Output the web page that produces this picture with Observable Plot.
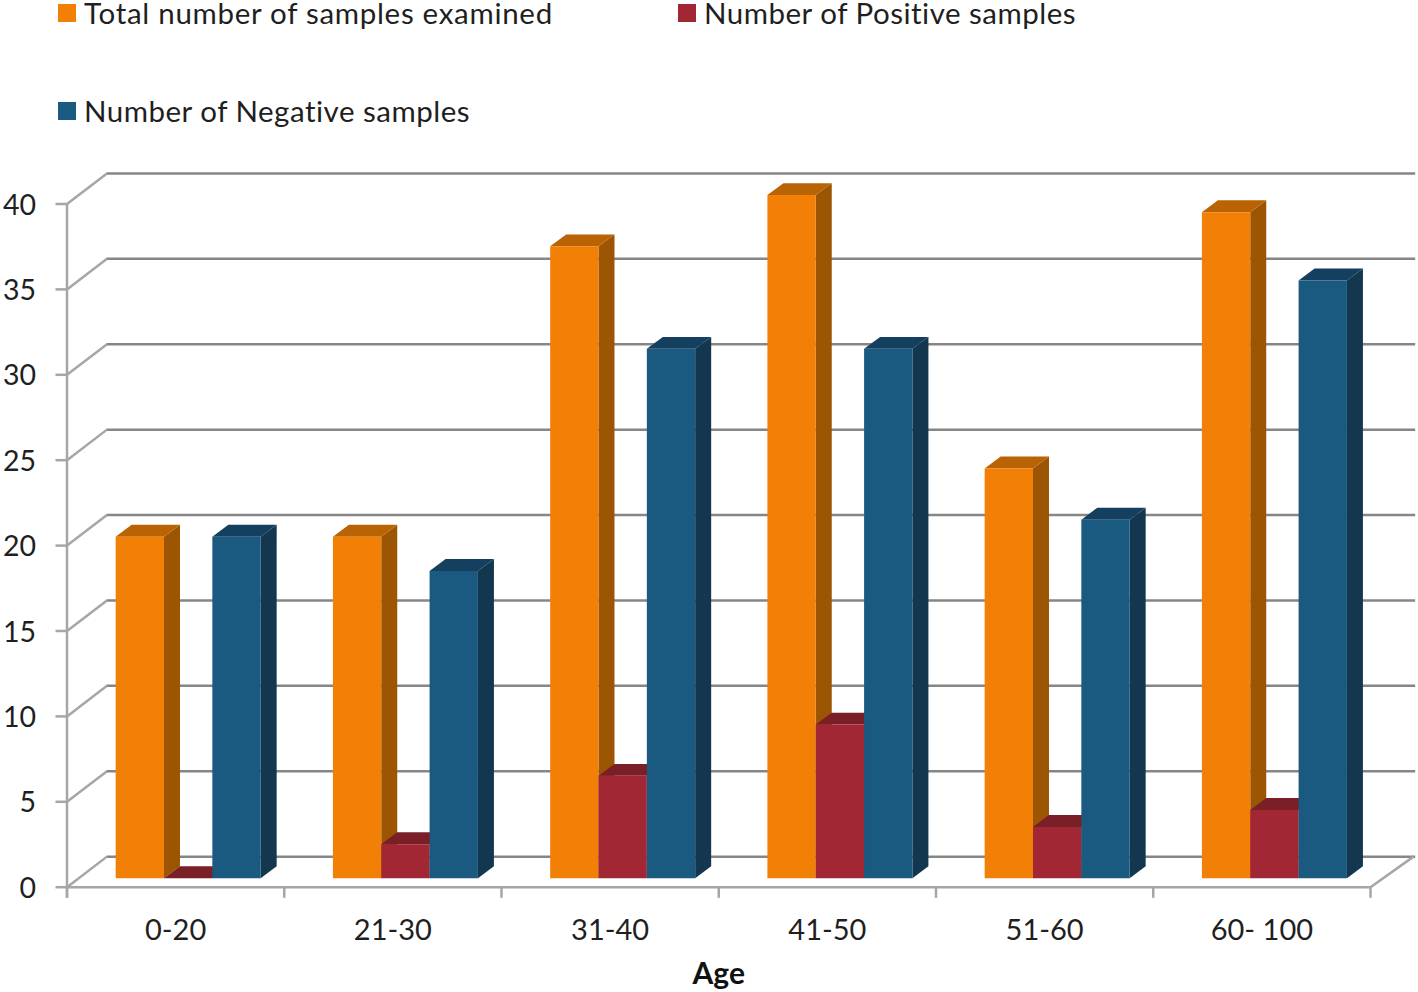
<!DOCTYPE html>
<html>
<head>
<meta charset="utf-8">
<script src="https://cdn.jsdelivr.net/npm/d3@7"></script>
<script src="https://cdn.jsdelivr.net/npm/@observablehq/plot@0.6"></script>
<style>
html,body{margin:0;padding:0;background:#fff;overflow:hidden}
#legend{position:relative;width:1418px;height:150px;font-family:Lato,sans-serif;font-size:29.5px;color:#1f1f1f}
.item{position:absolute;white-space:nowrap;line-height:30px;height:30px}
.item i{position:absolute;left:-26px;top:6px;width:18px;height:18px;display:block}
#chart svg{display:block}
</style>
</head>
<body>
<div id="legend"></div>
<div id="chart"></div>
<script>
// Data
const categories = ["0-20", "21-30", "31-40", "41-50", "51-60", "60- 100"];
const totalSamples = [20, 20, 37, 40, 24, 39];
const positiveSamples = [0, 2, 6, 9, 3, 4];
const negativeSamples = [20, 18, 31, 31, 21, 35];
const yTicks = [0, 5, 10, 15, 20, 25, 30, 35, 40];
const seriesNames = ["Total number of samples examined", "Number of Positive samples", "Number of Negative samples"];

// Styles
const colors = [
  {front: "#F28006", side: "#9B5503", top: "#B96304"},
  {front: "#A12735", side: "#7A1E28", top: "#7A1E28"},
  {front: "#1B5A80", side: "#12374F", top: "#153F5E"}
];
const gridColor = "#868686", axisColor = "#a6a6a6", textColor = "#1f1f1f";

// Pseudo-3D geometry expressed in scale units
const barStart = 0.224, barWidth = 0.2225;      // within one category
const depthX = 0.0736, depthY = 0.70;            // bar depth
const barLift = 0.52;                            // bars stand behind the front axis
const wallX = 0.184, wallY = 1.79;               // back wall offset
const gridEnd = 0.208, floorEnd = 0.198;         // right-hand reach of the back wall

const series = [totalSamples, positiveSamples, negativeSamples];
const faces = [];
categories.forEach((c, i) => {
  series.forEach((vals, s) => {
    const v = vals[i];
    const x0 = i + barStart + s * barWidth, x1 = x0 + barWidth;
    const b = barLift, t = v + barLift;
    const add = (name, fill, pts) => pts.forEach(([x, y]) => faces.push({face: `${i}-${s}-${name}`, fill, x, y}));
    add("side", colors[s].side, [[x1, b], [x1 + depthX, b + depthY], [x1 + depthX, t + depthY], [x1, t]]);
    add("top", colors[s].top, [[x0, t], [x1, t], [x1 + depthX, t + depthY], [x0 + depthX, t + depthY]]);
    add("front", colors[s].front, [[x0, b], [x1, b], [x1, t], [x0, t]]);
  });
});

const edges = d3.range(categories.length + 1);
const labelled = categories.map((c, i) => ({c, x: i + 0.5}));
const xMax = categories.length;

const chart = Plot.plot({
  width: 1418,
  height: 842,
  marginLeft: 66.5,
  marginRight: 48,
  marginTop: 53.5,
  marginBottom: 105.3,
  style: {fontFamily: "Lato, sans-serif", background: "#fff", overflow: "visible"},
  x: {domain: [0, xMax], axis: null},
  y: {domain: [0, 40], axis: null},
  marks: [
    // back wall gridlines
    Plot.ruleY(yTicks, {x1: wallX, x2: xMax + gridEnd, y: d => d + wallY, stroke: gridColor, strokeWidth: 2.5}),
    // left wall diagonals
    Plot.link(yTicks, {x1: 0, x2: wallX, y1: d => d, y2: d => d + wallY, stroke: axisColor, strokeWidth: 2.5}),
    // right floor diagonal
    Plot.link([0], {x1: xMax, x2: xMax + floorEnd, y1: 0, y2: wallY, stroke: axisColor, strokeWidth: 2.5}),
    // front axes
    Plot.ruleX([0], {y1: -0.65, y2: 40, stroke: axisColor, strokeWidth: 2.5}),
    Plot.ruleY([0], {x1: 0, x2: xMax, stroke: axisColor, strokeWidth: 2.5}),
    Plot.ruleX(edges, {y1: 0, y2: -0.65, stroke: axisColor, strokeWidth: 2.5}),
    Plot.axisY({ticks: yTicks, tickSize: 11, label: null, stroke: axisColor, strokeWidth: 2.5, fill: "none"}),
    Plot.axisY({ticks: yTicks, tickSize: 11, tickPadding: 20, label: null, stroke: "none", fill: textColor, fontSize: 28.5, dy: 1.5}),
    // bars
    Plot.line(faces, {x: "x", y: "y", z: "face", fill: {value: "fill", scale: null}, stroke: "none", curve: "linear"}),
    // category labels
    Plot.text(labelled, {x: "x", y: 0, text: "c", dy: 43.5, fill: textColor, fontSize: 29}),
    Plot.text(["Age"], {x: xMax / 2, y: 0, text: d => d, dy: 87, fill: "#111", fontSize: 30, fontWeight: "bold"})
  ]
});
document.getElementById("chart").appendChild(chart);

// Legend
const legendPos = [[84, -2], [704, -2], [84, 96]];
const legendSpacing = ["0.7px", "0.5px", "0.5px"];
const legend = document.getElementById("legend");
seriesNames.forEach((name, i) => {
  const el = document.createElement("div");
  el.className = "item";
  el.style.left = legendPos[i][0] + "px";
  el.style.top = legendPos[i][1] + "px";
  el.style.letterSpacing = legendSpacing[i];
  el.textContent = name;
  const sw = document.createElement("i");
  sw.style.background = colors[i].front;
  el.appendChild(sw);
  legend.appendChild(el);
});
</script>
</body>
</html>
